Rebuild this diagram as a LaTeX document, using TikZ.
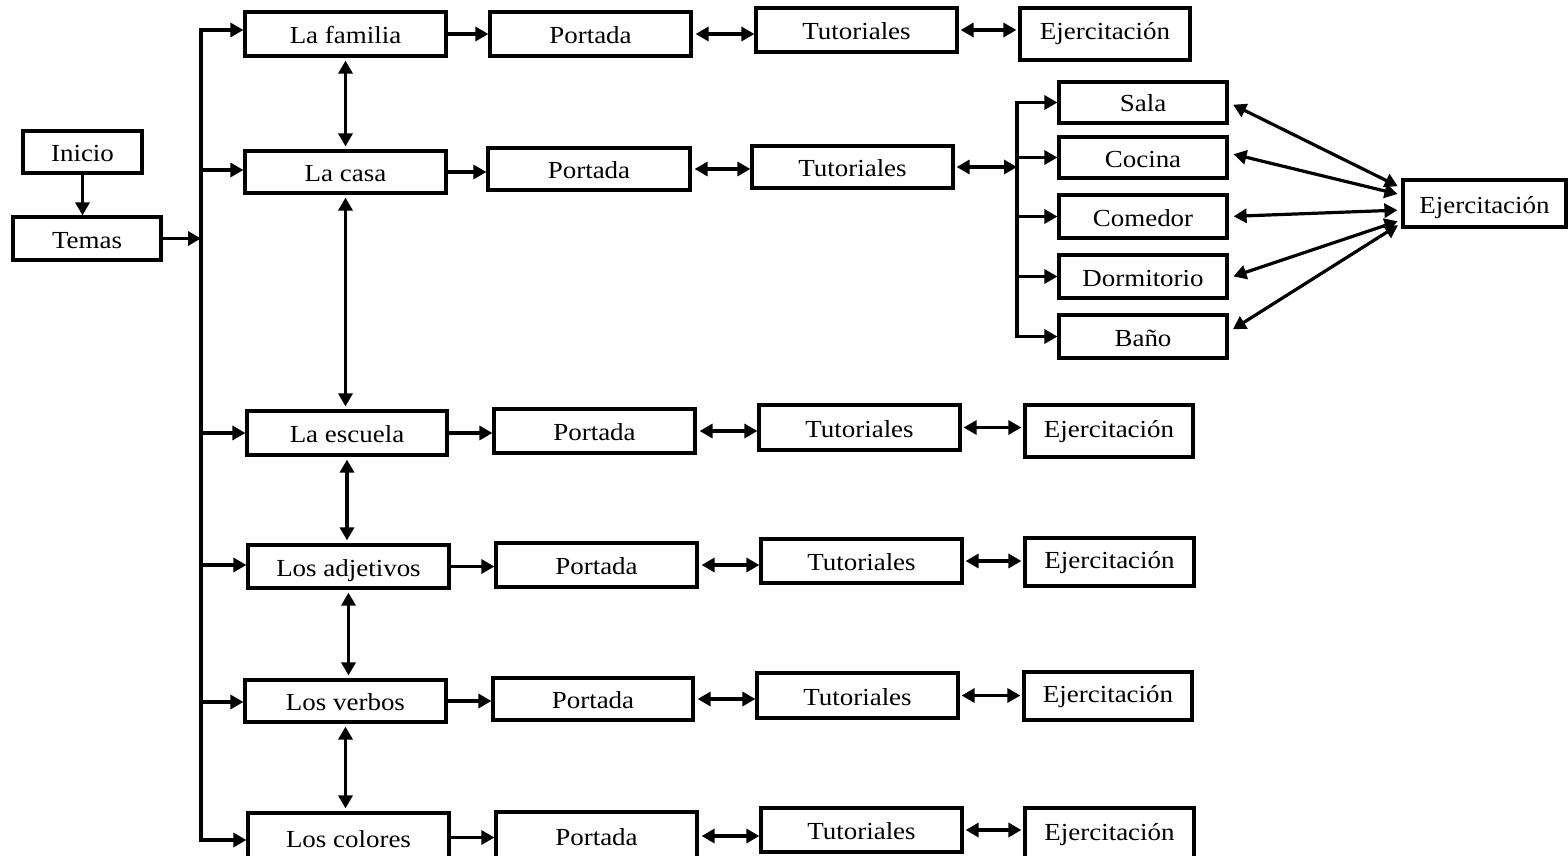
\documentclass[tikz,border=0pt]{standalone}
\usepackage{fontspec}
\setmainfont{Liberation Serif}[FakeStretch=1.1]
\usetikzlibrary{arrows.meta}

% box given by its corners (x1,y1) and (x2,y2)
\newcommand\bx[7][]{%
  \node[box,#1,minimum width={#5-#3},minimum height={#6-#4}] (#2)
    at ({(#3+#5)/2},{(#4+#6)/2}) {#7};}

\tikzset{
  box/.style={draw,line width=3.2pt,inner sep=0pt,text height=19pt,text depth=0pt,
              font=\fontsize{24.5}{28}\selectfont},
  ejbox/.style={text height=12pt},
  link/.style={line width=3.2pt},
  >={Triangle[length=13pt,width=14pt]},
}

\begin{document}
\begin{tikzpicture}[x=1pt,y=-1pt]
\clip (0,0) rectangle (1568,856);

% start
\bx{ini}{23}{131}{142}{173}{Inicio}
\bx{tem}{13}{217}{161}{260}{Temas}

% topics
\bx{t1}{245}{12}{446}{56}{La familia}
\bx{t2}{245}{151}{446}{193}{La casa}
\bx{t3}{247}{411}{447}{455}{La escuela}
\bx{t4}{248}{545}{449}{588}{Los adjetivos}
\bx{t5}{245}{680}{446}{722}{Los verbos}
\bx{t6}{248}{813}{449}{862}{Los colores}

% covers
\bx{p1}{490}{12}{691}{56}{Portada}
\bx{p2}{488}{148}{690}{190}{Portada}
\bx{p3}{494}{409}{695}{453}{Portada}
\bx{p4}{496}{543}{697}{587}{Portada}
\bx{p5}{493}{678}{693}{720}{Portada}
\bx{p6}{496}{812}{697}{860}{Portada}

% tutorials
\bx{u1}{756}{8}{957}{52}{Tutoriales}
\bx{u2}{752}{146}{953}{188}{Tutoriales}
\bx{u3}{759}{405}{960}{450}{Tutoriales}
\bx{u4}{761}{539}{962}{583}{Tutoriales}
\bx{u5}{757}{673}{958}{718}{Tutoriales}
\bx{u6}{761}{808}{962}{852}{Tutoriales}

% exercises
\bx[ejbox]{e1}{1020}{8}{1190}{60}{Ejercitación}
\bx[ejbox]{e3}{1025}{405}{1193}{457}{Ejercitación}
\bx[ejbox]{e4}{1025}{538}{1194}{586}{Ejercitación}
\bx[ejbox]{e5}{1024}{672}{1192}{720}{Ejercitación}
\bx[ejbox]{e6}{1025}{808}{1194}{860}{Ejercitación}

% rooms of the house
\bx{sal}{1059}{82}{1227}{123}{Sala}
\bx{coc}{1059}{137}{1227}{178}{Cocina}
\bx{com}{1059}{195}{1227}{238}{Comedor}
\bx{dor}{1059}{255}{1227}{298}{Dormitorio}
\bx{ban}{1059}{315}{1227}{358}{Baño}
\bx{ejr}{1403}{180}{1566}{227}{Ejercitación}

% main bus
\coordinate (b1) at (201,30);
\coordinate (b2) at (201,170);
\coordinate (b3) at (201,433);
\coordinate (b4) at (201,565);
\coordinate (b5) at (201,702);
\coordinate (b6) at (201,840);

\draw[link,->] (ini.south) -- (ini.south |- tem.north);
\draw[link,->] (tem.east) -- (tem.east -| b1);
\draw[link,->] (b6) -- (b1) -- (b1 -| t1.west);
\draw[link,->] (b1) -- (b6) -- (b6 -| t6.west);
\foreach \i in {2,3,4,5}
  \draw[link,->] (b\i) -- (b\i -| t\i.west);

% topic chain
\foreach \a/\b in {t1/t2,t2/t3,t3/t4,t4/t5,t5/t6}
  \draw[link,<->,shorten <=3pt,shorten >=3pt] (\a.south) -- (\a.south |- \b.north);

% rows
\foreach \i in {1,...,6}{
  \draw[link,->] (t\i.east) -- (t\i.east -| p\i.west);
  \draw[link,<->,shorten <=3pt] (p\i.east) -- (p\i.east -| u\i.west);
}
\foreach \i in {1,3,4,5,6}
  \draw[link,<->,shorten <=2pt,shorten >=2pt] (u\i.east) -- (u\i.east -| e\i.west);

% house bus
\coordinate (sb) at (1017,0);
\draw[link,<->,shorten <=2pt] (u2.east) -- (u2.east -| sb);
\draw[link,->] (sb |- ban.west) -- (sb |- sal.west) -- (sal.west);
\draw[link,->] (sb |- sal.west) -- (sb |- ban.west) -- (ban.west);
\foreach \r in {coc,com,dor}
  \draw[link,->] (sb |- \r.west) -- (\r.west);

% fan to the shared exercise box
\draw[link,<->,shorten <=4pt,shorten >=5pt] ([yshift=15.5pt]ejr.west) -- (sal.east);
\draw[link,<->,shorten <=4pt,shorten >=5pt] ([yshift=8.5pt]ejr.west) -- ([yshift=4.5pt]coc.east);
\draw[link,<->,shorten <=4pt,shorten >=5pt] ([yshift=-6.5pt]ejr.west) -- (com.east);
\draw[link,<->,shorten <=4pt,shorten >=5pt] ([yshift=-16.5pt]ejr.west) -- ([yshift=-1.5pt]dor.east);
\draw[link,<->,shorten <=4pt,shorten >=5pt] ([yshift=-19.5pt]ejr.west) -- ([yshift=4.5pt]ban.east);
\end{tikzpicture}
\end{document}
